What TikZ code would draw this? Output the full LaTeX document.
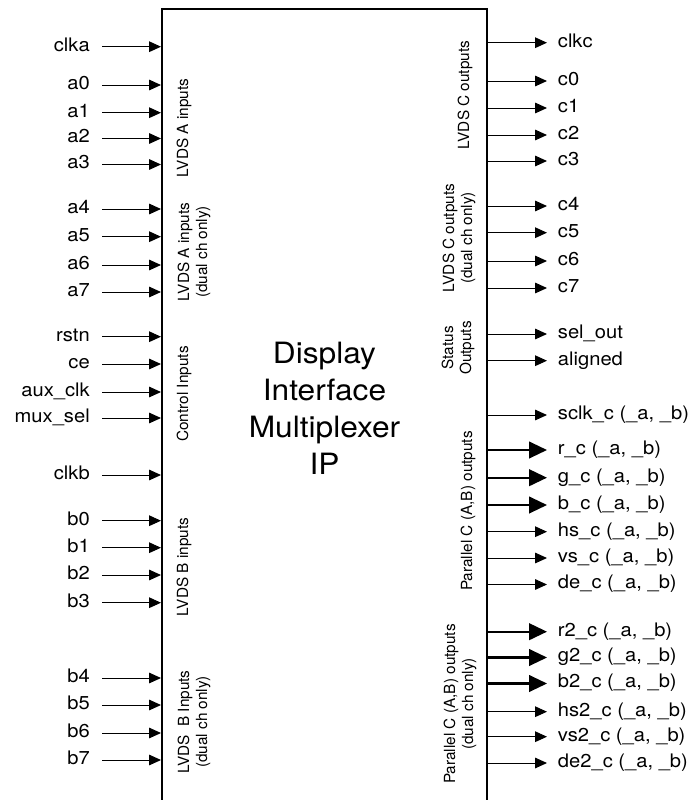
\documentclass[tikz,border=0pt]{standalone}
\usepackage{fontspec}
\setmainfont{TeX Gyre Heros}
\newfontfamily\widefont{TeX Gyre Heros}[FakeStretch=1.08]
\usetikzlibrary{arrows.meta}

\begin{document}
\begin{tikzpicture}[x=0.75pt,y=-0.75pt,
    sig/.style={-{Triangle[length=9pt,width=8pt]},line width=0.75pt},
    bus/.style={-{Triangle[length=13.5pt,width=12.5pt]},line width=1.6pt},
    pin/.style={inner ysep=0pt,font=\widefont\fontsize{14}{16}\selectfont,text height=1.5ex,text depth=0.25ex},
    inpin/.style={pin,anchor=east,inner xsep=9pt},
    outpin/.style={pin,anchor=west,inner xsep=8pt},
    grp/.style={rotate=90,align=center,inner sep=0pt,font=\fontsize{11.5}{13.5}\selectfont}]
    \useasboundingbox (0,0) rectangle (698,800);
    \node[draw,line width=1.5pt,minimum width=243.75pt,minimum height=615.4pt] (ip) at (324.5,419.75) {};
    \node[align=center,font=\widefont\fontsize{22}{27.75}\selectfont] (title) at (324.5,408) {Display\\Interface\\Multiplexer\\IP};

    \node[inpin] (clka) at (102,46.7) {clka};
    \node[inpin] (a0) at (102,85) {a0};
    \node[inpin] (a1) at (102,112.7) {a1};
    \node[inpin] (a2) at (102,138.5) {a2};
    \node[inpin] (a3) at (102,164.5) {a3};
    \node[inpin] (a4) at (102,209) {a4};
    \node[inpin] (a5) at (102,236.7) {a5};
    \node[inpin] (a6) at (102,265) {a6};
    \node[inpin] (a7) at (102,292) {a7};
    \node[inpin] (rstn) at (102,336.7) {rstn};
    \node[inpin] (ce) at (102,364) {ce};
    \node[inpin] (auxclk) at (102,392) {aux\_clk};
    \node[inpin] (muxsel) at (102,418) {mux\_sel};
    \node[inpin] (clkb) at (102,475) {clkb};
    \node[inpin] (b0) at (102,520.7) {b0};
    \node[inpin] (b1) at (102,547.7) {b1};
    \node[inpin] (b2) at (102,575) {b2};
    \node[inpin] (b3) at (102,602.7) {b3};
    \node[inpin] (b4) at (102,678) {b4};
    \node[inpin] (b5) at (102,705) {b5};
    \node[inpin] (b6) at (102,733) {b6};
    \node[inpin] (b7) at (102,760) {b7};
    \foreach \p in {clka,a0,a1,a2,a3,a4,a5,a6,a7,rstn,ce,auxclk,muxsel,clkb,b0,b1,b2,b3,b4,b5,b6,b7}
      \draw[sig] (\p.east) -- (\p.east -| ip.west);

    \node[outpin] (clkc) at (547,42.7) {clkc};
    \node[outpin] (c0) at (547,81) {c0};
    \node[outpin] (c1) at (547,108) {c1};
    \node[outpin] (c2) at (547,135) {c2};
    \node[outpin] (c3) at (547,161) {c3};
    \node[outpin] (c4) at (547,206) {c4};
    \node[outpin] (c5) at (547,232.7) {c5};
    \node[outpin] (c6) at (547,261) {c6};
    \node[outpin] (c7) at (547,288) {c7};
    \node[outpin] (selout) at (547,334) {sel\_out};
    \node[outpin] (aligned) at (547,360.7) {aligned};
    \node[outpin] (sclkc) at (547,415) {sclk\_c (\_a, \_b)};
    \node[outpin] (rc) at (547,450) {r\_c (\_a, \_b)};
    \node[outpin] (gc) at (547,477.7) {g\_c (\_a, \_b)};
    \node[outpin] (bc) at (547,505) {b\_c (\_a, \_b)};
    \node[outpin] (hsc) at (547,531.7) {hs\_c (\_a, \_b)};
    \node[outpin] (vsc) at (547,558) {vs\_c (\_a, \_b)};
    \node[outpin] (dec) at (547,584.5) {de\_c (\_a, \_b)};
    \node[outpin] (rtc) at (547,631.7) {r2\_c (\_a, \_b)};
    \node[outpin] (gtc) at (547,657.5) {g2\_c (\_a, \_b)};
    \node[outpin] (btc) at (547,683.5) {b2\_c (\_a, \_b)};
    \node[outpin] (hstc) at (547,711.7) {hs2\_c (\_a, \_b)};
    \node[outpin] (vstc) at (547,736.7) {vs2\_c (\_a, \_b)};
    \node[outpin] (detc) at (547,763) {de2\_c (\_a, \_b)};
    \foreach \p in {clkc,c0,c1,c2,c3,c4,c5,c6,c7,selout,aligned,sclkc,hsc,vsc,dec,hstc,vstc,detc}
      \draw[sig] (\p.west -| ip.east) -- (\p.west);
    \foreach \p in {rc,gc,bc,rtc,gtc,btc}
      \draw[bus] (\p.west -| ip.east) -- (\p.west);

    \node[grp] (lvdsa) at (184,128) {LVDS A inputs};
    \node[grp] (lvdsad) at (194,252) {LVDS A inputs\\(dual ch only)};
    \node[grp] (ctrl) at (184,394) {Control Inputs};
    \node[grp] (lvdsb) at (184,567) {LVDS B inputs};
    \node[grp] (lvdsbd) at (194,722) {LVDS~ B Inputs\\(dual ch only)};
    \node[grp] (lvdsc) at (465,95) {LVDS C outputs};
    \node[grp] (lvdscd) at (459,238) {LVDS C outputs\\(dual ch only)};
    \node[grp] (status) at (458,348) {Status\\Outputs};
    \node[grp] (parc) at (468,511) {Parallel C (A,B) outputs};
    \node[grp] (parcd) at (460,704) {Parallel C (A,B) outputs\\(dual ch only)};
  \end{tikzpicture}
\end{document}
